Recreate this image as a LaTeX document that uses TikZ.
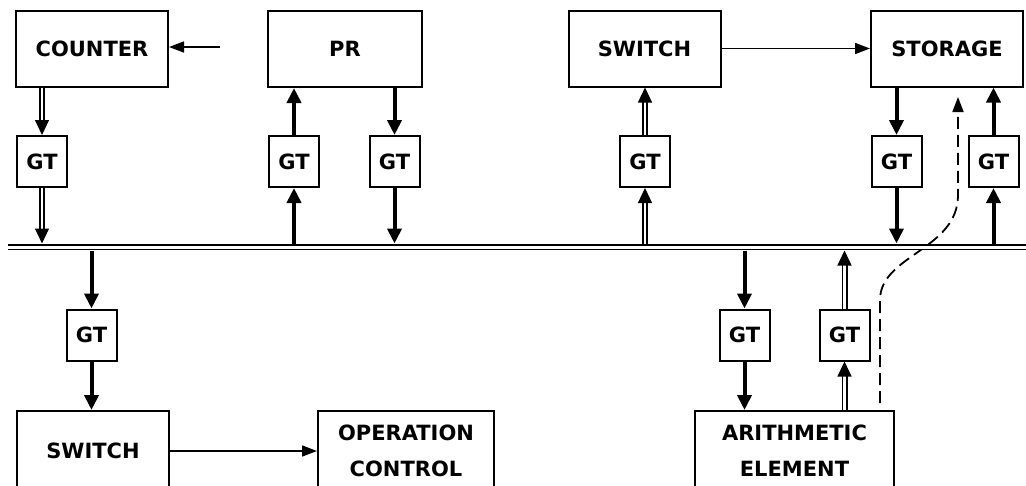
\documentclass[tikz,border=0pt]{standalone}
\usepackage{fontspec}
\setmainfont{DejaVu Sans}
\usetikzlibrary{arrows.meta}

% double-line connector: two thin rails and one filled tip
\newcommand{\dbllink}[2]{%
  \draw[dbl] (#1) -- (#2);
  \draw[dbltip] (#1) -- (#2);}

\begin{document}
\begin{tikzpicture}[x=1pt, y=-1pt, font=\bfseries\fontsize{21}{36}\selectfont,
    unit/.style={draw, line width=2pt, minimum width=152pt, minimum height=76pt, inner sep=0pt, align=center},
    gate/.style={draw, line width=2pt, minimum width=50pt, minimum height=51pt, inner sep=0pt},
    feed/.style={line width=1.7pt, -{Triangle[length=15pt, width=11pt]}},
    heavy/.style={line width=4pt, -{Triangle[length=15pt, width=14pt]}},
    dbl/.style={double, double distance=2.8pt, line width=1.6pt, shorten >=14pt},
    dbltip/.style={draw=white, line width=1.2pt, -{Triangle[length=15pt, width=14pt, color=black, fill=black]}},
    bus/.style={double, double distance=3pt, line width=1.9pt},
    flow/.style={line width=1.8pt, dash pattern=on 12pt off 6pt, -{Triangle[length=15pt, width=11pt]}}]
    \useasboundingbox (0,0) rectangle (1026,485);
    \clip (0,0) rectangle (1026,485);

    % Units, top row
    \node[unit] (cnt) at (92,48.5) {COUNTER};
    \node[unit, minimum width=154pt] (pr) at (345,49) {PR};
    \node[unit] (swA) at (644.5,48.5) {SWITCH};
    \node[unit] (sto) at (947,48.5) {STORAGE};

    % Units, bottom row (cut by the lower edge)
    \node[unit, minimum height=80pt] (swB) at (93,451) {SWITCH};
    \node[unit, minimum width=176pt, minimum height=80pt] (opc) at (406,451) {OPERATION\\CONTROL};
    \node[unit, minimum width=199pt, minimum height=80pt] (arith) at (794.5,451) {ARITHMETIC\\ELEMENT};

    % Gates
    \foreach \name/\x/\y in {gCnt/42/161.5, gPrI/294/161.5, gPrO/394.5/161.5, gSw/645/161.5, gStO/896.5/161.5, gStI/993.5/161.5, gOp/91.5/335, gArO/744.5/335, gArI/844.5/335} {
        \node[gate] (\name) at (\x,\y) {GT};
    }

    % Bus edges
    \coordinate (busL) at (8,247);
    \coordinate (busR) at (1030,247);
    \coordinate (busT) at (0,243.5); % top edge
    \coordinate (busB) at (0,250.5); % bottom edge

    % Counter
    \coordinate (cntIn) at (220,47);
    \draw[feed] (cntIn) -- (cntIn -| cnt.east);
    \dbllink{gCnt.north |- cnt.south}{gCnt.north}
    \dbllink{gCnt.south}{gCnt.south |- busT}

    % PR
    \draw[heavy] (gPrI.south |- busT) -- (gPrI.south);
    \draw[heavy] (gPrI.north) -- (gPrI.north |- pr.south);
    \draw[heavy] (gPrO.north |- pr.south) -- (gPrO.north);
    \draw[heavy] (gPrO.south) -- (gPrO.south |- busT);

    % Switch -> storage
    \dbllink{gSw.south |- busT}{gSw.south}
    \dbllink{gSw.north}{gSw.north |- swA.south}
    \draw[feed] (swA.east) -- (sto.west);

    % Storage
    \draw[heavy] (gStO.north |- sto.south) -- (gStO.north);
    \draw[heavy] (gStO.south) -- (gStO.south |- busT);
    \draw[heavy] (gStI.south |- busT) -- (gStI.south);
    \draw[heavy] (gStI.north) -- (gStI.north |- sto.south);

    % Switch -> operation control
    \draw[heavy] (gOp.north |- busB) -- (gOp.north);
    \draw[heavy] (gOp.south) -- (gOp.south |- swB.north);
    \draw[feed] (swB.east) -- (opc.west);

    % Arithmetic element
    \draw[heavy] (gArO.north |- busB) -- (gArO.north);
    \draw[heavy] (gArO.south) -- (gArO.south |- arith.north);
    \dbllink{gArI.south |- arith.north}{gArI.south}
    \dbllink{gArI.north}{gArI.north |- busB}

    % Dashed path to storage
    \coordinate (dashA) at (880,403);
    \coordinate (dashB) at (958,97);
    \draw[flow] (dashA) -- (880,300) .. controls (880,255) and (958,250) .. (958,195) -- (dashB);

    % Bus
    \draw[bus] (busL) -- (busR);

  \end{tikzpicture}
\end{document}
